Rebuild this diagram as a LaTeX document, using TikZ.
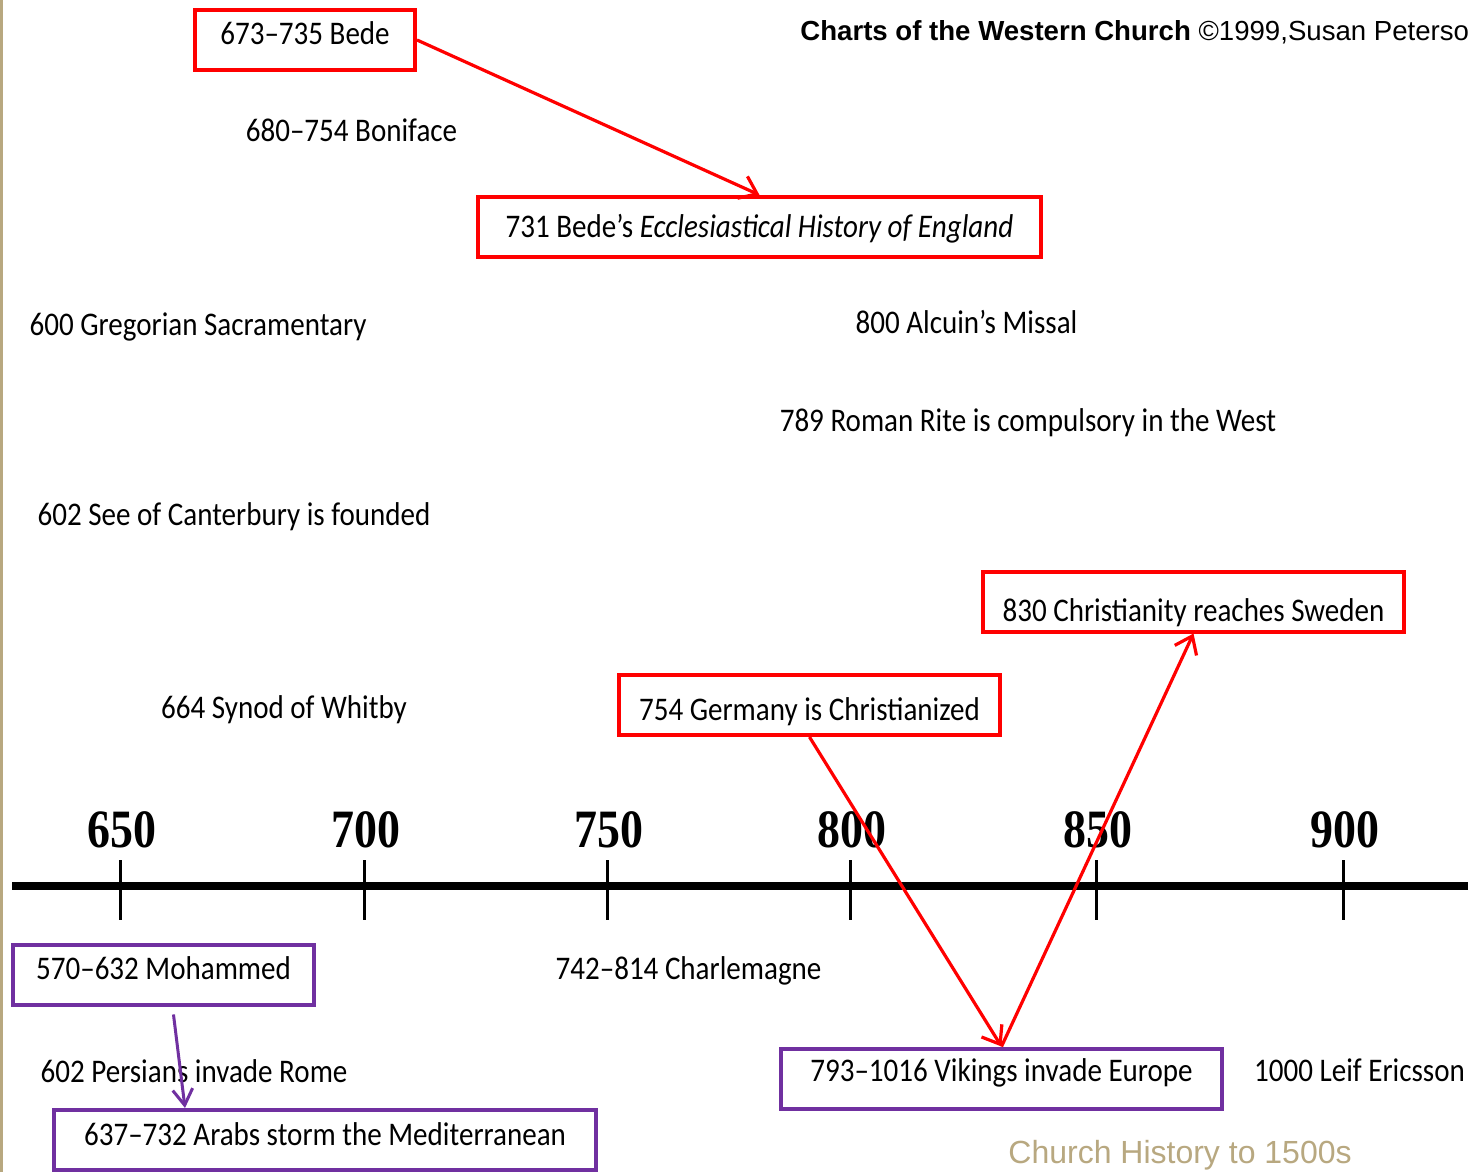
\documentclass[tikz,border=0pt]{standalone}
\usepackage{fontspec}
\setmainfont[FakeStretch=0.88]{Carlito}
\newfontfamily\hdrfont{Liberation Sans}
\newfontfamily\yrfont[FakeStretch=0.85]{Liberation Serif}
\usepackage{tikz}
\usetikzlibrary{arrows.meta}
\usepackage{color}

\definecolor{boxred}{RGB}{255,0,0}
\definecolor{boxpurple}{RGB}{112,48,160}
\definecolor{slidetan}{RGB}{184,168,128}

\tikzset{
   evt/.style={inner sep=0pt, font=\fontsize{16.5}{18}\selectfont},
   redbox/.style={evt, draw=boxred, line width=2pt, text height=17.5pt, text depth=12.5pt},
   purplebox/.style={redbox, draw=boxpurple},
   yr/.style={anchor=base, inner sep=0pt, font=\yrfont\bfseries\fontsize{27}{30}\selectfont},
   hop/.style={line width=1.6pt, -{Straight Barb[length=8pt,width=12pt,line width=1.6pt]}}
}

\begin{document}
\begin{tikzpicture}[x=0.5pt,y=-0.5pt]
   \useasboundingbox (0,0) rectangle (1478,1172);
   \fill[white] (0,0) rectangle (1478,1172);
   \fill[slidetan] (0,0) rectangle (2.5,1172);

   % title line
   \node[anchor=base west, inner sep=0pt, font=\hdrfont\fontsize{13.8}{16}\selectfont] (hdr) at (800,41)
      {\textbf{Charts of the Western Church} ©1999,Susan Peterso};

   % events above the line
   \node[redbox, minimum width=110pt] (bede) at (305,40) {673–735 Bede};
   \node[evt, anchor=base] (boniface) at (351.5,141) {680–754 Boniface};
   \node[redbox, minimum width=281.5pt, text height=20pt, text depth=10pt] (eccl) at (759.5,227)
      {731 Bede’s \textit{Ecclesiastical History of England}};
   \node[evt, anchor=base] (gregorian) at (198,335) {600 Gregorian Sacramentary};
   \node[evt, anchor=base] (alcuin) at (966.5,333) {800 Alcuin’s Missal};
   \node[evt, anchor=base] (romanrite) at (1028,431) {789 Roman Rite is compulsory in the West};
   \node[evt, anchor=base] (canterbury) at (234,525) {602 See of Canterbury is founded};
   \node[redbox, minimum width=210.5pt, text height=25pt, text depth=5pt] (sweden) at (1193.5,601.5)
      {830 Christianity reaches Sweden};
   \node[evt, anchor=base] (whitby) at (284,718) {664 Synod of Whitby};
   \node[redbox, minimum width=190.5pt, text height=22.5pt, text depth=7.5pt] (germany) at (809.5,705)
      {754 Germany is Christianized};

   % the time line
   \draw[line width=4pt] (12,886) -- (1468,886);
   \foreach \yy/\x in {650/120,700/364,750/607,800/850,850/1096,900/1343}{
      \draw[line width=1.5pt] (\x,860) -- (\x,920);
      \node[yr] (y\yy) at (\x+2,847) {\yy};
   }

   % events below the line
   \node[purplebox, minimum width=150.5pt] (mohammed) at (163.5,974.5) {570–632 Mohammed};
   \node[evt, anchor=base] (charlemagne) at (688.5,979) {742–814 Charlemagne};
   \node[evt, anchor=base] (persians) at (194,1082) {602 Persians invade Rome};
   \node[purplebox, minimum width=220.5pt, text height=16.5pt, text depth=13.5pt] (vikings) at (1001.5,1078.5)
      {793–1016 Vikings invade Europe};
   \node[evt, anchor=base] (leif) at (1359.5,1081) {1000 Leif Ericsson};
   \node[purplebox, minimum width=271pt] (arabs) at (325,1140) {637–732 Arabs storm the Mediterranean};

   \node[anchor=base west, inner sep=0pt, text=slidetan, font=\hdrfont\fontsize{16}{18}\selectfont] (sub) at (1008,1163)
      {Church History to 1500s};

   % links
   \draw[hop, boxred] (bede.east) -- (eccl.north);
   \draw[hop, boxred] (germany.south) -- (vikings.north);
   \draw[hop, boxred] (vikings.north) -- (sweden.south);
   \draw[boxpurple, line width=1.5pt, shorten <=4pt, -{Straight Barb[length=8pt,width=10pt,line width=1.5pt]}]
      ([xshift=4.5pt]mohammed.south) -- ([xshift=66.5pt]arabs.north west);
\end{tikzpicture}
\end{document}
